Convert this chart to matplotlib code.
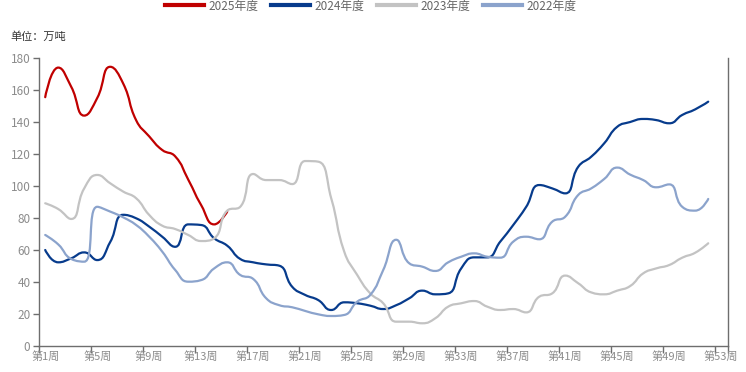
import numpy as np
import matplotlib
matplotlib.use("Agg")
import matplotlib.pyplot as plt
from matplotlib.path import Path
from matplotlib.patches import PathPatch
from matplotlib.lines import Line2D

plt.rcParams['font.family'] = ['Noto Sans CJK SC', 'DejaVu Sans']

weeks = [f"第{i}周" for i in range(1, 54)]
label_weeks = list(range(1, 54, 4))

s2025 = [155.5, 174, 162, 144, 155, 174.5, 164, 141, 131, 122.5, 118.5, 104, 88, 76, 84]
s2024 = [60, 52.3, 54.8, 58.5, 53.7, 65, 82, 79.8, 74.6, 68.3, 62, 76, 75.6, 67.3, 62.7,
         54.4, 52.3, 51, 50.2, 37, 31.9, 28.7, 22.5, 27.3, 26.7, 25.2, 23.1, 25.5, 29.8,
         34.6, 32.3, 32.9, 48.5, 55.4, 55.4, 65.2, 75.6, 87, 100.6, 98.5, 95.4, 112, 118.3,
         126.7, 137, 140, 141.9, 141.2, 139.2, 144.4, 147.9, 152.7]
s2023 = [89.2, 85.6, 79.4, 98.5, 106.9, 101.7, 96.5, 92.3, 81.9, 75.2, 73.1, 69.4, 65.6,
         67.3, 84.6, 87, 107.5, 103.7, 103.7, 101.2, 115.6, 115.2, 92.3, 59, 44.4, 32.9,
         26.7, 15.2, 15.2, 14.2, 17.3, 24.6, 26.7, 28.1, 24.6, 22.5, 23.1, 21, 30.8, 32.9,
         44, 39.2, 33.5, 32.3, 34.6, 37.5, 45.4, 48.5, 50.6, 55.2, 58.3, 64.2]
s2022 = [69.4, 63.5, 54.4, 52.7, 87, 84, 80.4, 75.6, 68.3, 59, 47.5, 40.2, 41.2, 48.5,
         52.3, 44.4, 41.9, 29.8, 25.5, 24.2, 21.9, 19.8, 18.75, 19.4, 27.7, 31.9, 47.5,
         66.4, 51.7, 49.6, 46.9, 52.3, 55.8, 57.9, 55.8, 55.2, 65.2, 68.3, 66.7, 77.7, 80.8,
         94.4, 98.5, 104.4, 111.5, 107.1, 103.7, 99.2, 101, 87, 84.6, 91.9]

series = [("2025年度", s2025, "#c00000"),
          ("2024年度", s2024, "#073b8c"),
          ("2023年度", s2023, "#c3c3c3"),
          ("2022年度", s2022, "#8ba3cc")]

fig = plt.figure(figsize=(7.46, 3.72), dpi=100)
ax = fig.add_axes([0.0519, 0.0699, 0.9236, 0.7742])

SX, SY = 13.0, 1.6  # approximate pixel scale for smoothing


def smooth_path(xs, ys, smooth=0.5):
    """ECharts-style smoothing with control-point clamping."""
    pts = np.column_stack([np.asarray(xs, float) * SX, np.asarray(ys, float) * SY])
    n = len(pts)
    cin = [pts[i].copy() for i in range(n)]
    cout = [pts[i].copy() for i in range(n)]
    for i in range(1, n - 1):
        p, c, nx = pts[i - 1], pts[i], pts[i + 1]
        v = nx - p
        d0 = np.linalg.norm(c - p)
        d1 = np.linalg.norm(nx - c)
        if d0 == 0 or d1 == 0:
            continue
        r = d1 / (d0 + d1)
        nc = c + v * smooth * r
        nc = np.minimum(nc, np.maximum(nx, c))
        nc = np.maximum(nc, np.minimum(nx, c))
        vv = nc - c
        pc = c - vv * d0 / d1
        pc = np.minimum(pc, np.maximum(p, c))
        pc = np.maximum(pc, np.minimum(p, c))
        vv = c - pc
        nc = c + vv * d1 / d0
        cin[i] = pc
        cout[i] = nc
    verts = [pts[0]]
    codes = [Path.MOVETO]
    for i in range(1, n):
        verts += [cout[i - 1], cin[i], pts[i]]
        codes += [Path.CURVE4] * 3
    verts = np.array(verts)
    verts[:, 0] /= SX
    verts[:, 1] /= SY
    return Path(verts, codes)


handles = []
for name, vals, col in series:
    xs = np.arange(1, len(vals) + 1)
    p = smooth_path(xs, vals)
    ax.add_patch(PathPatch(p, fill=False, edgecolor=col, lw=1.6, capstyle='round',
                           joinstyle='round'))
    handles.append(Line2D([], [], color=col, lw=3, label=name))

ax.set_xlim(0.5, 53.5)
ax.set_ylim(0, 180)

axis_col = "#6e6e6e"
ax.spines["top"].set_visible(False)
for sp in ["left", "bottom", "right"]:
    ax.spines[sp].set_color(axis_col)
    ax.spines[sp].set_linewidth(1)

ax.set_yticks(np.arange(0, 181, 20))
ax.tick_params(axis='y', colors=axis_col, labelcolor="#8c8c8c", labelsize=8.5,
               length=4, width=1, pad=2)

bounds = list(np.arange(0.5, 53.6, 4)) + [53.5]
ax.set_xticks(bounds)
ax.set_xticklabels([""] * len(bounds))
ax.tick_params(axis='x', which='major', colors=axis_col, length=5, width=1)
ax.set_xticks(label_weeks, minor=True)
ax.set_xticklabels([weeks[w - 1] for w in label_weeks], minor=True)
ax.tick_params(axis='x', which='minor', length=0, labelcolor="#8c8c8c",
               labelsize=8, pad=4)

fig.text(10 / 746, 1 - 37 / 372, "单位：万吨", fontsize=8, color="#333333",
         va='center', ha='left')

leg = fig.legend(handles=handles, loc='upper center', ncol=4,
                 bbox_to_anchor=(0.497, 1.03), frameon=False, fontsize=8.5,
                 handlelength=3.3, columnspacing=1.0, handletextpad=0.45)
for t in leg.get_texts():
    t.set_color("#666666")

fig.savefig("out.png", dpi=100)
